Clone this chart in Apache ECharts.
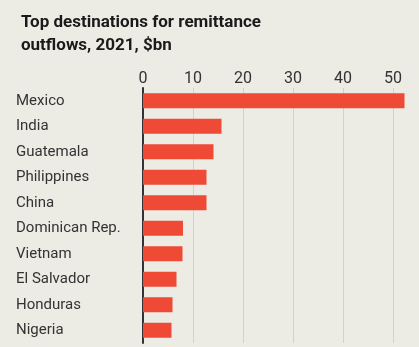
<!DOCTYPE html>
<html><head><meta charset="utf-8">
<script src="https://cdn.jsdelivr.net/npm/echarts@6/dist/echarts.min.js"></script>
<style>html,body{margin:0;padding:0;background:#ecebe4;}#c{width:419px;height:347px;}</style>
</head><body><div id="c"></div>
<script>
var categories = ['Mexico','India','Guatemala','Philippines','China','Dominican Rep.','Vietnam','El Salvador','Honduras','Nigeria'];
var values = [52.3, 15.7, 14.1, 12.7, 12.7, 8.0, 7.9, 6.7, 5.9, 5.7];
var titleLines = ['Top destinations for remittance', 'outflows, 2021, $bn'];

var chart = echarts.init(document.getElementById('c'), null, {renderer: 'canvas'});
chart.setOption({
  backgroundColor: '#ecebe4',
  animation: false,
  title: {
    text: titleLines.join('\n'),
    left: 16, top: 6,
    textStyle: {fontFamily: 'Roboto', fontWeight: 'bold', fontSize: 17, lineHeight: 23, color: '#1a1a1a'}
  },
  grid: {left: 143, top: 88, width: 250, height: 255},
  xAxis: {
    type: 'value', position: 'top', min: 0, max: 50, interval: 10,
    axisLine: {show: false}, axisTick: {show: false},
    axisLabel: {fontFamily: 'Roboto', fontSize: 16, color: '#333', margin: 1},
    splitLine: {lineStyle: {color: '#d3d2ca', width: 1}}
  },
  yAxis: {
    type: 'category', data: categories, inverse: true,
    axisLine: {lineStyle: {color: '#333', width: 2}}, axisTick: {show: false},
    axisLabel: {fontFamily: 'Roboto', fontSize: 15, color: '#333', align: 'left', margin: 127}
  },
  series: [{
    type: 'bar', data: values, barWidth: 15, clip: false,
    itemStyle: {color: '#ef4a36'}
  }]
});
</script></body></html>
